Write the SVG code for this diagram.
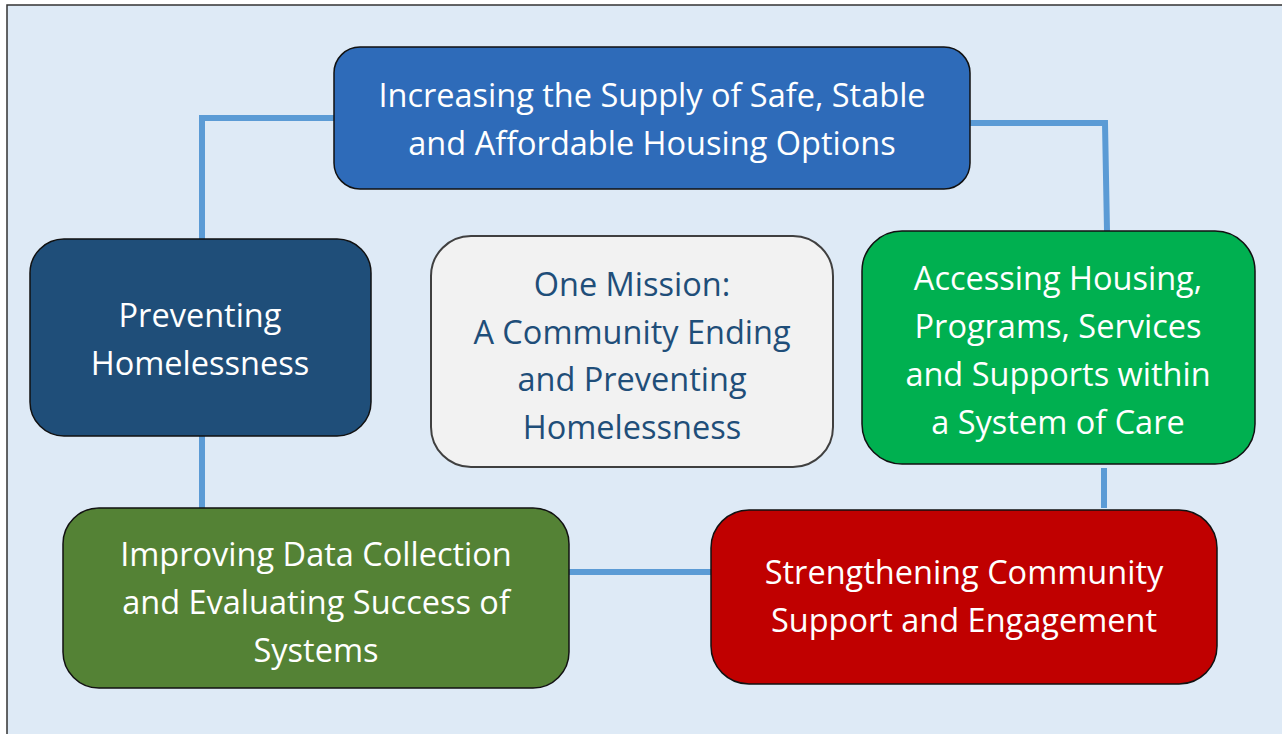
<svg xmlns="http://www.w3.org/2000/svg" width="1282" height="734" viewBox="0 0 1282 734">
<style>
.node{stroke:#111;stroke-width:1.5}
.t{font-family:"Open Sans","Noto Sans","Liberation Sans",sans-serif;font-size:32.5px;text-anchor:middle;fill:#fff}
.c{fill:#1F4E79}
.conn{fill:none;stroke:#5B9BD5;stroke-width:6}
</style>
<rect x="0" y="0" width="1282" height="734" fill="#fff"/>
<rect x="7" y="5" width="1300" height="760" fill="#DEEAF6" stroke="#333" stroke-width="1.5"/>
<g id="connectors">
<polyline class="conn" points="334,118 202,118 202,239"/>
<polyline class="conn" points="970,123 1105,123 1107,231"/>
<line class="conn" x1="202" y1="432" x2="202" y2="508"/>
<line class="conn" x1="1104" y1="468" x2="1104" y2="508"/>
<line class="conn" x1="569" y1="572" x2="711" y2="572"/>
</g>
<g id="node-supply">
<rect class="node" x="334" y="47" width="636" height="142" rx="26" fill="#2E6BB9"/>
<text class="t" x="652" y="107">Increasing the Supply of Safe, Stable</text>
<text class="t" x="652" y="155">and Affordable Housing Options</text>
</g>
<g id="node-preventing">
<rect class="node" x="30" y="239" width="341" height="197" rx="34" fill="#1F4E79"/>
<text class="t" x="200" y="327">Preventing</text>
<text class="t" x="200" y="375">Homelessness</text>
</g>
<g id="node-mission">
<rect x="431" y="236" width="402" height="231" rx="40" fill="#F2F2F2" stroke="#404040" stroke-width="2"/>
<text class="t c" x="632" y="296">One Mission:</text>
<text class="t c" x="632" y="344">A Community Ending</text>
<text class="t c" x="632" y="391">and Preventing</text>
<text class="t c" x="632" y="439">Homelessness</text>
</g>
<g id="node-accessing">
<rect class="node" x="862" y="231" width="393" height="233" rx="40" fill="#00B050"/>
<text class="t" x="1058" y="290">Accessing Housing,</text>
<text class="t" x="1058" y="338">Programs, Services</text>
<text class="t" x="1058" y="386">and Supports within</text>
<text class="t" x="1058" y="434">a System of Care</text>
</g>
<g id="node-data">
<rect class="node" x="63" y="508" width="506" height="180" rx="36" fill="#548235"/>
<text class="t" x="316" y="566">Improving Data Collection</text>
<text class="t" x="316" y="614">and Evaluating Success of</text>
<text class="t" x="316" y="662">Systems</text>
</g>
<g id="node-community">
<rect class="node" x="711" y="510" width="506" height="174" rx="38" fill="#C00000"/>
<text class="t" x="964" y="584">Strengthening Community</text>
<text class="t" x="964" y="632">Support and Engagement</text>
</g>
</svg>
